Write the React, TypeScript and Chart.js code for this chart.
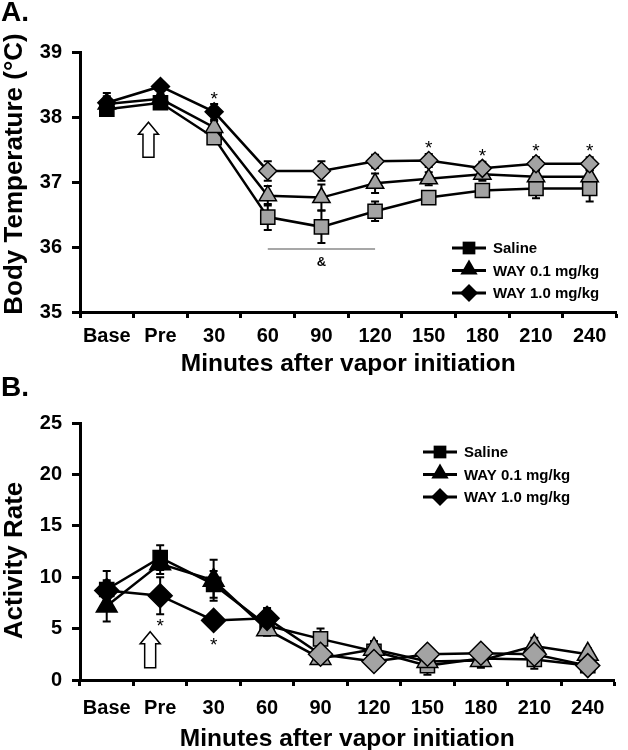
import React, { useEffect, useRef } from "react";
import { Chart, registerables } from "chart.js";

Chart.register(...registerables);

const FONT = "'Liberation Sans', Arial, Helvetica, sans-serif";
const GREY = "#a3a3a3";

// ---------- shared ----------
const categories = ["Base", "Pre", "30", "60", "90", "120", "150", "180", "210", "240"];
const seriesNames = ["Saline", "WAY 0.1 mg/kg", "WAY 1.0 mg/kg"];
const pointStyles = ["rect", "triangle", "rectRot"];

// ---------- Panel A: body temperature ----------
const tempSaline = [38.12, 38.22, 37.68, 36.46, 36.31, 36.55, 36.76, 36.87, 36.9, 36.9];
const tempWay01 = [38.2, 38.28, 37.84, 36.79, 36.76, 36.98, 37.05, 37.12, 37.08, 37.08];
const tempWay10 = [38.22, 38.47, 38.08, 37.17, 37.17, 37.32, 37.33, 37.21, 37.28, 37.28];
const tempSalineSem = [0.07, 0.05, 0.08, 0.2, 0.25, 0.15, 0.08, 0.1, 0.15, 0.2];
const tempWay01Sem = [0.17, 0.07, 0.1, 0.15, 0.2, 0.15, 0.1, 0.1, 0.1, 0.1];
const tempWay10Sem = [0.1, 0.05, 0.12, 0.15, 0.15, 0.1, 0.1, 0.1, 0.1, 0.1];
const tempBlackUntil = [2, 2, 3];
const tempStarIdx = [2, 6, 7, 8, 9];
const tempBracket = { from: 3, to: 5, value: 35.97, label: "&", labelValue: 35.77 };
const tempArrow = [37.92, 37.38];

// ---------- Panel B: activity ----------
const actSaline = [8.8, 11.9, 9.3, 5.3, 4.0, 2.8, 1.4, 2.1, 2.0, 1.4];
const actWay01 = [7.2, 11.3, 9.7, 4.9, 2.1, 3.0, 1.8, 1.9, 3.3, 2.5];
const actWay10 = [8.7, 8.2, 5.8, 6.0, 2.5, 1.8, 2.5, 2.6, 2.5, 1.4];
const actSalineSem = [1.8, 1.2, 1.3, 1.0, 1.0, 0.5, 0.9, 0.5, 0.9, 0.6];
const actWay01Sem = [1.5, 1.0, 2.0, 0.5, 0.5, 0.8, 0.5, 0.7, 0.8, 0.6];
const actWay10Sem = [1.0, 1.8, 0.3, 1.0, 0.5, 0.4, 0.4, 0.3, 0.4, 0.4];
const actBlackUntil = [4, 3, 4];
const actStarIdx = [1, 2];
const actArrow = [4.7, 1.2];

type PanelCfg = {
  letter: string;
  yTitle: string;
  xTitle: string;
  yMin: number;
  yMax: number;
  yStep: number;
  values: number[][];
  sems: number[][];
  blackUntil: number[];
  starIdx: number[];
  starsBelow: boolean;
  radii: number[];
  top: number;
  xAxisHeight: number;
  xTickPadding: number;
  legendX: number;
  legendY: number;
  yTitleShift: number;
  arrow: number[];
  arrowDx: number;
  bracket?: { from: number; to: number; value: number; label: string; labelValue: number };
};

function markerPath(ctx: CanvasRenderingContext2D, style: string, x: number, y: number, r: number) {
  ctx.beginPath();
  if (style === "rect") {
    const s = r * Math.SQRT1_2;
    ctx.rect(x - s, y - s, 2 * s, 2 * s);
  } else if (style === "triangle") {
    for (let k = 0; k < 3; k++) {
      const a = (k * 2 * Math.PI) / 3;
      const px = x + Math.sin(a) * r;
      const py = y - Math.cos(a) * r;
      if (k === 0) ctx.moveTo(px, py);
      else ctx.lineTo(px, py);
    }
    ctx.closePath();
  } else {
    ctx.moveTo(x, y - r);
    ctx.lineTo(x + r, y);
    ctx.lineTo(x, y + r);
    ctx.lineTo(x - r, y);
    ctx.closePath();
  }
}

function buildConfig(p: PanelCfg): any {
  const datasets = p.values.map((vals, si) => ({
    label: seriesNames[si],
    data: vals,
    order: 3 - si,
    borderColor: "#000",
    borderWidth: 2.5,
    pointStyle: pointStyles[si],
    pointRadius: p.radii[si],
    pointHoverRadius: p.radii[si],
    pointBorderColor: "#000",
    pointBorderWidth: 1.5,
    pointBackgroundColor: vals.map((_, i) => (i < p.blackUntil[si] ? "#000" : GREY)),
    tension: 0,
    fill: false,
    clip: false,
  }));

  const extras = {
    id: "panelExtras",
    beforeDatasetsDraw(chart: any) {
      const ctx: CanvasRenderingContext2D = chart.ctx;
      const ys = chart.scales.y;
      ctx.save();
      ctx.strokeStyle = "#000";
      ctx.lineWidth = 2;
      p.values.forEach((vals, si) => {
        const meta = chart.getDatasetMeta(si);
        meta.data.forEach((pt: any, j: number) => {
          const e = p.sems[si][j];
          const x = pt.x;
          const yt = ys.getPixelForValue(vals[j] + e);
          const yb = ys.getPixelForValue(vals[j] - e);
          ctx.beginPath();
          ctx.moveTo(x, yt);
          ctx.lineTo(x, yb);
          ctx.moveTo(x - 4, yt);
          ctx.lineTo(x + 4, yt);
          ctx.moveTo(x - 4, yb);
          ctx.lineTo(x + 4, yb);
          ctx.stroke();
        });
      });
      ctx.restore();
    },
    afterDraw(chart: any) {
      const ctx: CanvasRenderingContext2D = chart.ctx;
      const xs = chart.scales.x;
      const ys = chart.scales.y;
      const ca = chart.chartArea;
      ctx.save();

      // panel letter
      ctx.fillStyle = "#000";
      ctx.font = `bold 28px ${FONT}`;
      ctx.textAlign = "left";
      ctx.textBaseline = "alphabetic";
      ctx.fillText(p.letter, 1, 21);

      // y title
      ctx.save();
      ctx.translate(15, (ca.top + ca.bottom) / 2 + p.yTitleShift);
      ctx.rotate(-Math.PI / 2);
      ctx.font = `bold 26px ${FONT}`;
      ctx.textAlign = "center";
      ctx.textBaseline = "middle";
      ctx.fillText(p.yTitle, 0, 0);
      ctx.restore();

      // significance stars on WAY 1.0
      ctx.font = `19px ${FONT}`;
      ctx.textAlign = "center";
      ctx.textBaseline = "middle";
      const s = 2;
      const r = p.radii[s];
      p.starIdx.forEach((i) => {
        const x = xs.getPixelForValue(i);
        const py = ys.getPixelForValue(p.values[s][i]);
        if (p.starsBelow) {
          const cap = ys.getPixelForValue(p.values[s][i] - p.sems[s][i]);
          ctx.fillText("*", x, Math.max(cap, py + r) + 13);
        } else {
          const cap = ys.getPixelForValue(p.values[s][i] + p.sems[s][i]);
          ctx.fillText("*", x, Math.min(cap, py - r) - 3);
        }
      });

      // bracket
      if (p.bracket) {
        const b = p.bracket;
        const y = ys.getPixelForValue(b.value);
        ctx.strokeStyle = "#8a8a8a";
        ctx.lineWidth = 1.5;
        ctx.beginPath();
        ctx.moveTo(xs.getPixelForValue(b.from), y);
        ctx.lineTo(xs.getPixelForValue(b.to), y);
        ctx.stroke();
        ctx.fillStyle = "#000";
        ctx.font = `bold 13px ${FONT}`;
        ctx.fillText(b.label, xs.getPixelForValue((b.from + b.to) / 2), ys.getPixelForValue(b.labelValue));
      }

      // hollow arrow at "Pre"
      {
        const cx = xs.getPixelForValue(1) + p.arrowDx;
        const yTop = ys.getPixelForValue(p.arrow[0]);
        const yBot = ys.getPixelForValue(p.arrow[1]);
        const hw = 10;
        const sw = 5.5;
        const hh = 12;
        ctx.beginPath();
        ctx.moveTo(cx, yTop);
        ctx.lineTo(cx + hw, yTop + hh);
        ctx.lineTo(cx + sw, yTop + hh);
        ctx.lineTo(cx + sw, yBot);
        ctx.lineTo(cx - sw, yBot);
        ctx.lineTo(cx - sw, yTop + hh);
        ctx.lineTo(cx - hw, yTop + hh);
        ctx.closePath();
        ctx.fillStyle = "#fff";
        ctx.fill();
        ctx.strokeStyle = "#000";
        ctx.lineWidth = 1.5;
        ctx.stroke();
      }

      // legend
      const lrow = [0, 22.5, 45];
      seriesNames.forEach((name, si) => {
        const y = p.legendY + lrow[si];
        const x0 = p.legendX;
        ctx.strokeStyle = "#000";
        ctx.lineWidth = 3;
        ctx.beginPath();
        ctx.moveTo(x0, y);
        ctx.lineTo(x0 + 34, y);
        ctx.stroke();
        const mr = si === 0 ? 9 : si === 1 ? 10 : 9;
        markerPath(ctx, pointStyles[si], x0 + 17, si === 1 ? y - 1 : y, mr);
        ctx.fillStyle = "#000";
        ctx.fill();
        ctx.fillStyle = "#000";
        ctx.font = `bold 15px ${FONT}`;
        ctx.textAlign = "left";
        ctx.textBaseline = "middle";
        ctx.fillText(name, x0 + 41, y + 1);
      });

      ctx.restore();
    },
  };

  return {
    type: "line",
    data: { labels: categories, datasets },
    plugins: [extras],
    options: {
      responsive: false,
      animation: false,
      events: [],
      layout: { padding: { top: p.top, right: 11, left: 0, bottom: 0 } },
      plugins: { legend: { display: false }, tooltip: { enabled: false } },
      scales: {
        x: {
          type: "category",
          offset: true,
          grid: {
            offset: true,
            drawOnChartArea: false,
            drawTicks: true,
            tickLength: 6,
            tickWidth: 3,
            tickColor: "#000",
          },
          border: { display: true, color: "#000", width: 3 },
          ticks: {
            color: "#000",
            font: { family: FONT, size: 20, weight: "bold" },
            padding: p.xTickPadding,
            maxRotation: 0,
            autoSkip: false,
          },
          title: {
            display: true,
            text: p.xTitle,
            color: "#000",
            font: { family: FONT, size: 24.5, weight: "bold", lineHeight: 0.9 },
            padding: 0,
          },
          afterFit(scale: any) {
            scale.height = p.xAxisHeight;
          },
        },
        y: {
          min: p.yMin,
          max: p.yMax,
          grid: {
            drawOnChartArea: false,
            drawTicks: true,
            tickLength: 8,
            tickWidth: 3,
            tickColor: "#000",
          },
          border: { display: true, color: "#000", width: 3 },
          ticks: {
            stepSize: p.yStep,
            color: "#000",
            font: { family: FONT, size: 20, weight: "bold" },
            padding: 10,
          },
          afterFit(scale: any) {
            scale.width = 80;
          },
        },
      },
    },
  };
}

const panelA: PanelCfg = {
  letter: "A.",
  yTitle: "Body Temperature (°C)",
  xTitle: "Minutes after vapor initiation",
  yMin: 35,
  yMax: 39,
  yStep: 1,
  values: [tempSaline, tempWay01, tempWay10],
  sems: [tempSalineSem, tempWay01Sem, tempWay10Sem],
  blackUntil: tempBlackUntil,
  starIdx: tempStarIdx,
  starsBelow: false,
  radii: [10, 10, 9],
  top: 52,
  xAxisHeight: 63,
  xTickPadding: 6,
  legendX: 452,
  legendY: 248,
  yTitleShift: -8,
  arrow: tempArrow,
  arrowDx: -12,
  bracket: tempBracket,
};

const panelB: PanelCfg = {
  letter: "B.",
  yTitle: "Activity Rate",
  xTitle: "Minutes after vapor initiation",
  yMin: 0,
  yMax: 25,
  yStep: 5,
  values: [actSaline, actWay01, actWay10],
  sems: [actSalineSem, actWay01Sem, actWay10Sem],
  blackUntil: actBlackUntil,
  starIdx: actStarIdx,
  starsBelow: true,
  radii: [10, 12, 12],
  top: 48,
  xAxisHeight: 70,
  xTickPadding: 10,
  legendX: 423,
  legendY: 77,
  yTitleShift: 9,
  arrow: actArrow,
  arrowDx: -10,
};

function Panel({ cfg }: { cfg: PanelCfg }) {
  const ref = useRef<HTMLCanvasElement>(null);
  useEffect(() => {
    const chart = new Chart(ref.current as HTMLCanvasElement, buildConfig(cfg));
    return () => chart.destroy();
  }, [cfg]);
  return <canvas ref={ref} width={628} height={375} style={{ display: "block", width: 628, height: 375 }} />;
}

export default function App() {
  return (
    <div style={{ position: "absolute", left: 0, top: 0, width: 628, height: 750, background: "#fff" }}>
      <Panel cfg={panelA} />
      <Panel cfg={panelB} />
    </div>
  );
}
